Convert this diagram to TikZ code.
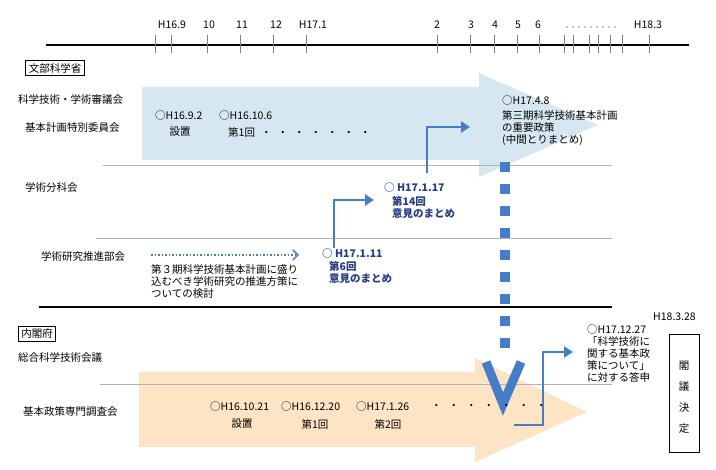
\documentclass[tikz,border=0pt]{standalone}
\usepackage{fontspec}
\setmainfont{Noto Sans CJK JP}
\usetikzlibrary{arrows.meta}
\definecolor{lblue}{RGB}{214,231,242}
\definecolor{lorange}{RGB}{252,228,196}
\definecolor{mblue}{RGB}{70,125,200}
\definecolor{dblue}{RGB}{40,60,130}
\begin{document}
\begin{tikzpicture}[x=1pt,y=-1pt,
  every node/.style={inner sep=0pt,font=\fontsize{10.5}{12}\selectfont},
  lt/.style={anchor=west},
  bt/.style={anchor=west,text=dblue,font=\fontsize{10.5}{12}\selectfont\bfseries},
  sep/.style={gray!60,line width=0.6pt},
  conn/.style={mblue,line width=2.4pt,-{Triangle[length=9pt,width=11pt]}},
  tick/.style={gray,line width=0.5pt},
  org/.style={draw,line width=1pt,inner sep=3pt}]
\useasboundingbox (0,0) rectangle (716,470);
% timeline
\draw[line width=1.2pt] (46,45) -- (689,45);
\foreach \x in {155,171,207,240,273,306,437,470,494,517,539,564,573,589,598,610,622,649}
  \draw[tick] (\x,35) -- (\x,53);
\foreach \x/\t in {172/H16.9,209/10,242/11,276/12,313/H17.1,437/2,471/3,495/4,518/5,538/6,648/H18.3}
  \node at (\x,25) {\t};
\foreach \x in {567,573,...,617} \fill (\x,27) circle (0.6pt);
% arrows
\fill[lblue] (142,87) -- (479,87) -- (479,73) -- (598,125) -- (479,177) -- (479,160) -- (142,160) -- cycle;
\fill[lorange] (139,372) -- (475,372) -- (475,358) -- (587,412) -- (475,462) -- (475,447) -- (139,447) -- cycle;
% separators
\draw[sep] (103,165) -- (612,165);
\draw[sep] (96,238) -- (612,238);
\draw[line width=1.2pt] (39,307) -- (612,307);
\draw[sep] (100,384) -- (612,384);
% org boxes
\node[org] (mext) at (55,68) {文部科学省};
\node[org] (cao) at (37,334) {内閣府};
\node[draw,line width=1pt,minimum width=30pt,minimum height=118pt] (kaku) at (684,394) {};
\node at (684,366) {閣};
\node at (684,387) {議};
\node at (684,408) {決};
\node at (684,429) {定};
% left labels
\node[lt] at (18,100) {科学技術・学術審議会};
\node[lt] at (25,128) {基本計画特別委員会};
\node[lt] at (25,188) {学術分科会};
\node[lt] at (41,257) {学術研究推進部会};
\node[lt] at (18,358) {総合科学技術会議};
\node[lt] at (23,412) {基本政策専門調査会};
% upper events
\node[lt] at (155,116) {○H16.9.2};
\node at (180,132) {設置};
\node[lt] at (219,116) {○H16.10.6};
\node[lt] at (228,132) {第1回\hspace{6pt}・\hspace{6pt}・\hspace{6pt}・\hspace{6pt}・\hspace{6pt}・\hspace{6pt}・\hspace{6pt}・};
\node[lt] (h1748) at (502,101) {○H17.4.8};
\node[lt,align=left,anchor=north west] at (502,110) {第三期科学技術基本計画\\の重要政策\\(中間とりまとめ)};
\node[bt] (h17117) at (384,188) {○ H17.1.17};
\node[bt,align=left,anchor=north west] at (392,196) {第14回\\意見のまとめ};
\node[bt] (h17111) at (322,254) {○ H17.1.11};
\node[bt,align=left,anchor=north west] at (329,261) {第6回\\意見のまとめ};
\node[lt,align=left,anchor=north west] at (151,264) {第３期科学技術基本計画に盛り\\込むべき学術研究の推進方策に\\ついての検討};
% dotted arrow
\coordinate (ds) at (151,255);
\coordinate (de) at (299,255);
\draw[mblue,dotted,line width=1.5pt,-{Straight Barb[length=5pt]}] (ds) -- (de);
% connectors
\coordinate (c1) at (427,173);
\draw[conn] (c1) -- (427,127) -- (470,127);
\coordinate (c2) at (334,248);
\draw[conn] (c2) -- (334,200) -- (374,200);
% dashed blue
\draw[mblue,line width=10pt,dash pattern=on 10pt off 12pt] (505,162) -- (505,356);
\draw[mblue,line width=9pt,line join=miter] (486,362) -- (503,404) -- (521,362);
% lower events
\node[lt] at (210,407) {○H16.10.21};
\node at (242,424) {設置};
\node[lt] at (281,407) {○H16.12.20};
\node at (315,424) {第1回};
\node[lt] at (356,407) {○H17.1.26};
\node at (388,424) {第2回};
\node[lt] at (431,407) {・\hspace{7pt}・\hspace{7pt}・\hspace{7pt}・\hspace{7pt}・\hspace{7pt}・\hspace{7pt}・};
\coordinate (c3) at (514,425);
\draw[conn] (c3) -- (543,425) -- (543,352) -- (573,352);
\node[lt] at (653,317) {H18.3.28};
\node[lt,align=left,anchor=north west] at (587,325) {○H17.12.27\\「科学技術に\\関する基本政\\策について」\\に対する答申};
\end{tikzpicture}
\end{document}
